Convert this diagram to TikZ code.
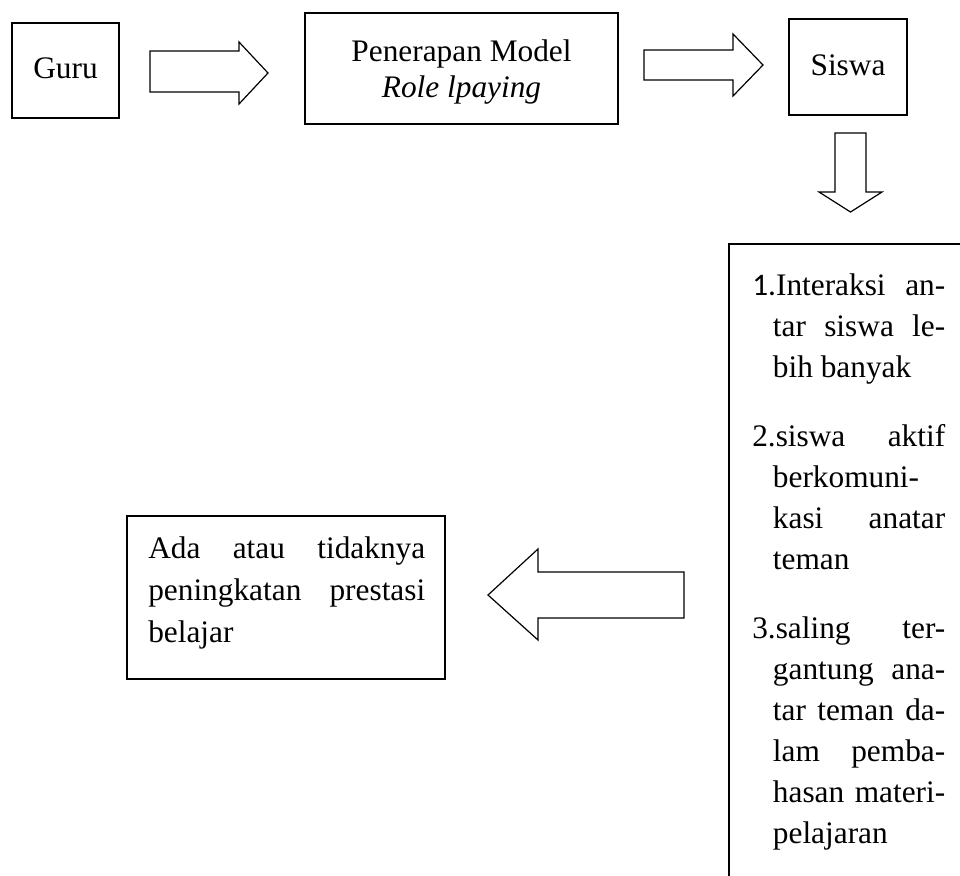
\documentclass[tikz,border=0pt]{standalone}
\usepackage{fontspec}
\setmainfont{Liberation Serif}
\newfontfamily\numfont{Carlito}
\begin{document}
\begin{tikzpicture}[x=0.75pt,y=-0.75pt,
  box/.style={draw, line width=0.9pt, inner sep=0pt},
  blockarrow/.style={draw, line width=0.9pt, line join=miter},
  txt/.style={inner sep=0pt, font=\fontsize{23.5pt}{28pt}\selectfont}]
\useasboundingbox (0,0) rectangle (960,875);
\begin{scope}
\clip (0,0) rectangle (960,875);
% boxes
\node[box, minimum width=80.25pt, minimum height=71.25pt] (guru) at (65.5,70.5) {};
\node[box, minimum width=234.75pt, minimum height=83.25pt] (model) at (461.5,68.5) {};
\node[box, minimum width=88.5pt, minimum height=72pt] (siswa) at (848,67) {};
\node[box, minimum width=195.75pt, minimum height=492pt] (list) at (859.5,572) {};
\node[box, minimum width=238.5pt, minimum height=122.25pt] (hasil) at (286,597.5) {};
% texts
\node[txt, anchor=base] (gurutext) at (65.5,78) {Guru};
\node[txt, anchor=base] (modeltext) at (461.5,61) {\parbox[t]{220pt}{\centering\setlength{\baselineskip}{27pt}Penerapan Model\\\textit{Role lpaying}}};
\node[txt, anchor=base] (siswatext) at (848,75) {Siswa};
\node[txt, anchor=base west] (listtext) at (752,295) {\parbox[t]{144.75pt}{\setlength{\baselineskip}{30.75pt}%
{\numfont 1.}Interaksi\hfill an-\\
\hspace*{15.5pt}tar\hfill siswa\hfill le-\\
\hspace*{15.5pt}bih banyak\\[21pt]
2.siswa\hfill aktif\\
\hspace*{15.5pt}berkomuni-\\
\hspace*{15.5pt}kasi\hfill anatar\\
\hspace*{15.5pt}teman\\[21pt]
3.saling\hfill ter-\\
\hspace*{15.5pt}gantung\hfill ana-\\
\hspace*{15.5pt}tar\hfill teman\hfill da-\\
\hspace*{15.5pt}lam\hfill pemba-\\
\hspace*{15.5pt}hasan\hfill materi-\\
\hspace*{15.5pt}pelajaran}};
\node[txt, anchor=base west] (hasiltext) at (148,558) {\parbox[t]{207.75pt}{\setlength{\baselineskip}{31.5pt}Ada\hfill atau\hfill tidaknya\\peningkatan\hfill prestasi\\belajar}};
% block arrows
\draw[blockarrow] (150,51) -- (239,51) -- (239,42) -- (268,73) -- (239,104) -- (239,92) -- (150,92) -- cycle;
\draw[blockarrow] (644,50) -- (733,50) -- (733,34) -- (763,65) -- (733,96) -- (733,80) -- (644,80) -- cycle;
\draw[blockarrow] (835,133) -- (866,133) -- (866,192) -- (882,192) -- (850.5,212) -- (819,192) -- (835,192) -- cycle;
\draw[blockarrow] (684,572) -- (538,572) -- (538,549) -- (488,595) -- (538,640) -- (538,618) -- (684,618) -- cycle;
\end{scope}
\end{tikzpicture}
\end{document}
